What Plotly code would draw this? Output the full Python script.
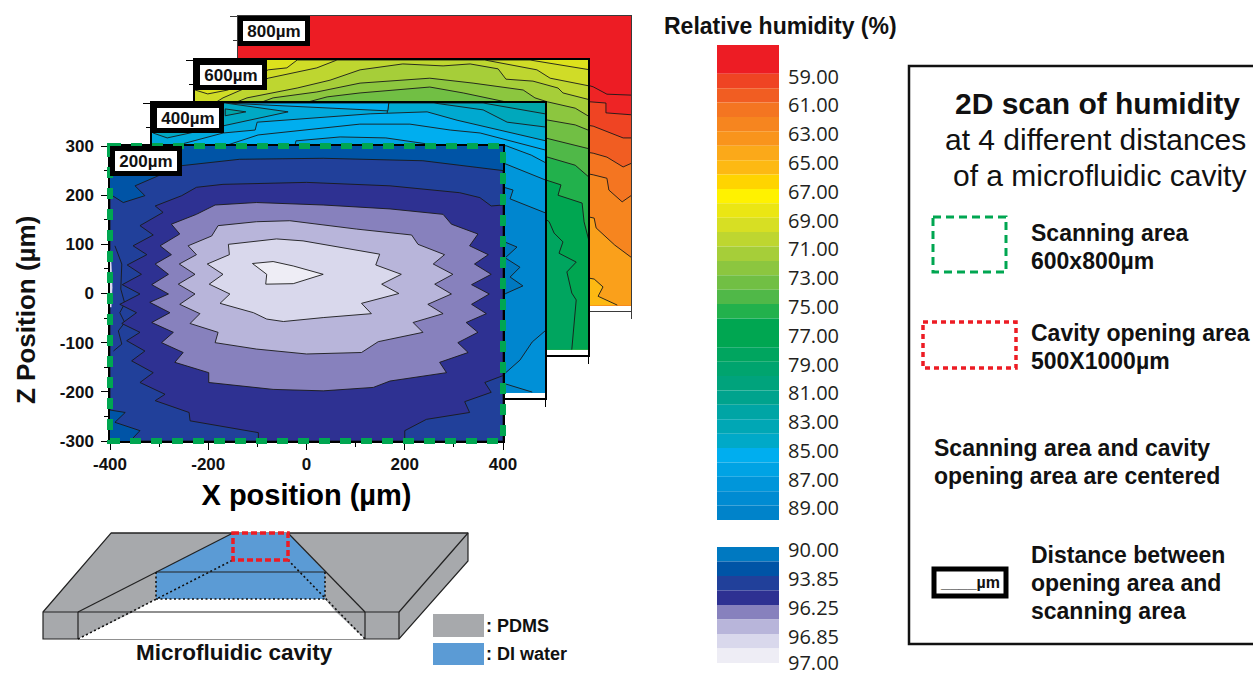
import plotly.graph_objects as go

# ---------- isolines, in micrometres (x, z) ----------
# 200 um panel (closed loops, outer to inner)
ISO_200_A = [(-359,-300),(400,-300),(400,250),(237,270),(34,275),(-136,273),(-254,260),(-349,219),(-329,199),(-373,185),(-400,202),(-400,-237),(-369,-242),(-390,-262),(-339,-279)]
ISO_200_B = [(-308,178),(-292,165),(-339,138),(-312,119),(-353,97),(-325,79),(-365,58),(-336,39),(-375,18),(-339,-1),(-380,-22),(-346,-39),(-376,-61),(-339,-79),(-366,-96),(-329,-117),(-356,-137),(-312,-161),(-339,-181),(-288,-205),(-308,-218),(-239,-242),(-237,-259),(-98,-283),(-98,-300),(200,-300),(200,-279),(244,-256),(332,-242),(322,-220),(376,-201),(363,-181),(400,-167),(400,180),(376,178),(353,195),(312,205),(170,219),(0,226),(-170,222),(-224,216),(-254,199)]
ISO_200_C = [(-186,180),(-102,185),(34,180),(170,172),(278,161),(295,141),(349,121),(332,97),(370,79),(342,60),(376,39),(336,18),(372,-1),(336,-22),(366,-41),(325,-59),(349,-79),(308,-100),(329,-120),(271,-140),(285,-161),(170,-178),(136,-191),(34,-198),(-68,-195),(-199,-181),(-199,-161),(-268,-140),(-251,-120),(-295,-100),(-271,-79),(-315,-59),(-278,-39),(-319,-18),(-281,-1),(-315,18),(-281,39),(-308,60),(-275,79),(-298,97),(-258,121),(-275,141),(-224,161)]
ISO_200_D = [(-180,138),(-102,146),(-34,148),(102,131),(214,119),(227,100),(281,79),(258,60),(298,39),(261,19),(295,-1),(247,-22),(278,-41),(217,-59),(237,-79),(146,-98),(112,-120),(0,-123),(-102,-113),(-186,-100),(-180,-79),(-237,-61),(-217,-41),(-258,-22),(-227,-1),(-261,19),(-227,39),(-259,60),(-224,79),(-241,97),(-193,117)]
ISO_200_E = [(-159,100),(-61,111),(-7,107),(149,80),(141,58),(193,39),(153,19),(188,0),(112,-20),(132,-41),(34,-49),(-47,-57),(-81,-52),(-108,-39),(-176,-20),(-156,-1),(-198,19),(-170,39),(-202,60),(-157,79)]
ISO_200_F = [(-110,61),(-68,65),(-27,56),(34,39),(-27,20),(-83,19),(-81,39)]
EDGE_200_SLIVER = [(-400,90),(-397,60),(-395,12),(-397,-28),(-400,-28)]
EDGE_200_LINE = [(-390,97),(-376,60),(-378,9),(-370,-20),(-380,-39),(-370,-59),(-383,-76),(-376,-103),(-393,-117)]

# 400 um panel
ISO_400_A3 = [(-400,300),(274,300),(400,278)]
ISO_400_A2 = [(-400,300),(174,300),(274,286),(323,261),(402,251)]
ISO_400_STEP = [(82,300),(78,276),(60,200),(-400,200),(-400,300)]
ISO_400_WEDGE = [(-253,300),(80,284),(82,300)]
ISO_400_SPIKE = [(-251,300),(-123,282),(-369,229),(-398,239),(-400,300)]
ISO_400_ISLAND = [(-251,288),(-209,282),(-251,274)]
ISO_400_B = [(-400,204),(-345,215),(-255,239),(-190,245),(-186,261),(44,278),(160,282),(221,265),(402,223)]
ISO_400_C = [(-251,213),(-184,235),(23,257),(125,257),(207,245),(268,239),(402,204)]
ISO_400_D = [(-109,213),(-107,223),(-17,231),(76,229),(172,215),(321,213),(372,194),(402,178)]
ISO_400_E = [(268,204),(315,178),(402,143)]
ISO_400_F = [(268,143),(315,129),(335,123),(329,105),(402,76)]
ISO_400_G = [(290,17),(319,17),(343,7),(319,-15),(349,-34),(329,-54),(355,-72),(319,-88),(290,-88)]
ISO_400_H = [(315,-253),(349,-223),(374,-186),(402,-162)]
ISO_400_I = [(315,-270),(374,-288)]

# 600 um panel
ISO_600_L1 = [(-400,239),(-374,231),(-333,239),(-251,280),(-213,284),(-192,300),(282,300),(404,280)]
ISO_600_L2 = [(-359,213),(-343,223),(-251,263),(-196,274),(-152,284),(-111,300),(190,300),(296,280),(323,263),(404,247)]
ISO_600_L3 = [(-319,213),(-294,223),(-192,243),(-125,259),(-64,280),(-23,286),(23,292),(105,288),(160,292),(217,282),(233,261),(288,257),(339,243),(349,233),(404,219)]
ISO_600_L4 = [(-268,213),(-241,223),(-152,235),(-64,253),(78,263),(166,253),(268,239),(292,223),(317,215),(374,202),(404,184)]
ISO_600_L5 = [(-176,213),(-160,217),(-131,225),(-64,233),(78,245),(146,233),(241,213),(317,178),(374,168),(404,156)]
ISO_600_L6 = [(302,145),(315,141),(404,119)]
ISO_600_L7 = [(302,107),(315,103),(374,86),(404,60)]
ISO_600_L8 = [(302,60),(315,56),(345,46),(339,25),(388,9),(392,-29),(404,-76)]
ISO_600_L9 = [(302,-15),(321,-29),(331,-52),(349,-70),(341,-93),(376,-111),(357,-131),(367,-174),(376,-188),(372,-229),(367,-289)]

# 800 um panel
ISO_800_L1 = [(296,164),(323,156),(351,141),(402,139)]
ISO_800_L2 = [(296,127),(323,125),(349,123),(349,103),(402,99)]
ISO_800_L3 = [(296,80),(323,76),(384,52),(402,52)]
ISO_800_L4 = [(296,25),(323,21),(351,13),(384,-7),(402,1)]
ISO_800_L5 = [(296,-18),(323,-23),(351,-30),(355,-54),(382,-78),(402,-64)]
ISO_800_L6 = [(296,-105),(325,-111),(329,-131),(367,-166),(402,-192)]
ISO_800_L7 = [(296,-230),(325,-235),(343,-251),(333,-270),(372,-288)]

# ---------- colour scales ----------
RH_LEVELS = [57,59,60,61,62,63,64,65,66,67,68,69,70,71,72,73,74,75,76,77,78,79,80,81,82,83,84,85,86,87,88,89,90]
RH_COLORS = ["#ed1c24","#ef4423","#f15d22","#f47521","#f6851f","#f9941c","#fba919","#fdb913","#ffd400","#fff200",
             "#ebe613","#d7df23","#bed630","#a6ce39","#8cc63f","#71bf44","#50b848","#22b14c","#00a651","#00a651",
             "#00a55f","#00a46e","#00a37c","#00a38d","#00a5a5","#00a7b5","#00a9c8","#00aeef","#00a3e4","#0096da",
             "#008bd2","#0083ca"]
RH_TICKS = [59,61,63,65,67,69,71,73,75,77,79,81,83,85,87,89]
HI_COLORS = ["#0079c1","#0054a6","#21409a","#2e3192","#8781bd","#b8b5da","#d9d8ec","#eeedf5"]
HI_TICK_POS = [0,2,4,6,8]
HI_TICK_TEXT = ["90.00","93.85","96.25","96.85","97.00"]
X_TICKS = [-400,-200,0,200,400]
Z_TICKS = [-300,-200,-100,0,100,200,300]

W, H = 1253, 675
SANS = "Liberation Sans"
INK = "#231f20"

fig = go.Figure()

def px(x): return x / W
def py(y): return 1 - y / H

PANELS = {  # axis suffix, left px, top px
    800: ("", 238, 16),
    600: ("2", 195, 60),
    400: ("3", 152, 103),
    200: ("4", 110, 146),
}
PANEL_W, PANEL_H = 393, 295

def poly(sfx, pts, color, line=False):
    xs = [p[0] for p in pts]; ys = [p[1] for p in pts]
    fig.add_trace(go.Scatter(x=xs + xs[:1], y=ys + ys[:1], mode="lines", fill="toself", fillcolor=color,
                             line=dict(color="#1a1a1a" if line else "rgba(0,0,0,0)", width=0.9 if line else 0),
                             xaxis="x"+sfx, yaxis="y"+sfx, hoverinfo="skip", showlegend=False))

def stroke(sfx, pts):
    fig.add_trace(go.Scatter(x=[p[0] for p in pts], y=[p[1] for p in pts], mode="lines",
                             line=dict(color="#1a1a1a", width=0.9),
                             xaxis="x"+sfx, yaxis="y"+sfx, hoverinfo="skip", showlegend=False))

def band(sfx, pts, color, bottom=-289, to_right=True):
    closure = ([(400, bottom)] if to_right else []) + [(pts[0][0], bottom)]
    poly(sfx, pts + closure, color)
    stroke(sfx, pts)

def base(sfx, color, bottom=-289):
    poly(sfx, [(-400,-300),(400,-300),(400,300),(-400,300)], "#ffffff")
    poly(sfx, [(-400,bottom),(400,bottom),(400,300),(-400,300)], color)

# 800 um
base("", "#ed1c24")
for pts, c in [(ISO_800_L1,"#ee2425"),(ISO_800_L2,"#ef4423"),(ISO_800_L3,"#f15d22"),(ISO_800_L4,"#f47521"),
               (ISO_800_L5,"#f6851f"),(ISO_800_L6,"#faa01b")]:
    band("", pts, c)
band("", ISO_800_L7, "#fdb913", to_right=False)

# 600 um
base("2", "#dde21c")
for pts, c in [(ISO_600_L1,"#d0dc27"),(ISO_600_L2,"#bed630"),(ISO_600_L3,"#a6ce39"),(ISO_600_L4,"#8cc63f"),
               (ISO_600_L5,"#71bf44"),(ISO_600_L6,"#50b848"),(ISO_600_L7,"#22b14c"),(ISO_600_L8,"#00a651")]:
    band("2", pts, c)
band("2", ISO_600_L9, "#00a55f", to_right=False)

# 400 um
base("3", "#00a5a8")
band("3", ISO_400_A3, "#00a8bc")
band("3", ISO_400_A2, "#00a9d0")
poly("3", ISO_400_STEP, "#00a9dc")
stroke("3", ISO_400_STEP[:2])
poly("3", ISO_400_WEDGE, "#00aeef", line=True)
poly("3", ISO_400_SPIKE, "#00a9c4", line=True)
poly("3", ISO_400_ISLAND, "#00a5a8", line=True)
band("3", ISO_400_B, "#00aeef")
band("3", ISO_400_C, "#00aeef")
band("3", ISO_400_D, "#00a3e3")
band("3", ISO_400_E, "#0096da")
band("3", ISO_400_F, "#0086cf")
poly("3", ISO_400_G, "#0079c1", line=True)
band("3", ISO_400_H, "#0090d7")
band("3", ISO_400_I, "#0086cf", to_right=True)

# 200 um
base("4", "#0054a6", bottom=-300)
poly("4", ISO_200_A, "#21409a", line=True)
poly("4", EDGE_200_SLIVER, "#d9d8ec")
stroke("4", EDGE_200_LINE)
poly("4", ISO_200_B, "#2e3192", line=True)
poly("4", ISO_200_C, "#8781bd", line=True)
poly("4", ISO_200_D, "#b8b5da", line=True)
poly("4", ISO_200_E, "#d9d8ec", line=True)
poly("4", ISO_200_F, "#eeedf5", line=True)

# colour bars
fig.add_trace(go.Bar(x=[0]*len(RH_COLORS), y=[b-a for a,b in zip(RH_LEVELS, RH_LEVELS[1:])], base=RH_LEVELS[:-1],
                     marker=dict(color=RH_COLORS, line=dict(width=0)), width=1, xaxis="x5", yaxis="y5",
                     hoverinfo="skip", showlegend=False))
fig.add_trace(go.Bar(x=[0]*len(HI_COLORS), y=[1]*len(HI_COLORS), base=list(range(len(HI_COLORS))),
                     marker=dict(color=HI_COLORS, line=dict(width=0)), width=1, xaxis="x6", yaxis="y6",
                     hoverinfo="skip", showlegend=False))

layout = dict(template="none", width=W, height=H, margin=dict(l=0, r=0, t=0, b=0, autoexpand=False), paper_bgcolor="white",
              plot_bgcolor="rgba(0,0,0,0)", font=dict(family=SANS, color="#000000"), showlegend=False, barmode="overlay")

for dist, (sfx, left, top) in PANELS.items():
    front = dist == 200
    lw = {800: 1.2, 600: 2.2, 400: 2, 200: 1.5}[dist]
    lc = "#3a3a3a" if dist == 800 else "#000000"
    layout["xaxis"+sfx] = dict(domain=[px(left), px(left+PANEL_W)], range=[-400,400], anchor="y"+sfx, automargin=False,
        tickvals=X_TICKS, ticktext=[str(v) for v in X_TICKS], ticks="outside", ticklen=7, tickcolor=lc, tickwidth=1,
        minor=dict(dtick=100, ticks="outside", ticklen=4, tickcolor=lc),
        showline=True, mirror=True, linecolor=lc, linewidth=lw, showgrid=False, zeroline=False,
        showticklabels=front, ticklabelstandoff=0, tickfont=dict(family=SANS, size=17, weight=700, color="#111111"))
    layout["yaxis"+sfx] = dict(domain=[py(top+PANEL_H), py(top)], range=[-300,300], anchor="x"+sfx, automargin=False,
        tickvals=Z_TICKS, ticktext=[str(v) for v in Z_TICKS], ticks="outside", ticklen=7, tickcolor=lc, tickwidth=1,
        minor=dict(dtick=50, ticks="outside", ticklen=4, tickcolor=lc),
        showline=True, mirror=True, linecolor=lc, linewidth=lw, showgrid=False, zeroline=False,
        showticklabels=front, ticklabelstandoff=4, tickfont=dict(family=SANS, size=17, weight=700, color="#111111"))
layout["xaxis4"]["title"] = dict(text="X position (µm)", font=dict(family=SANS, size=29, weight=700), standoff=12)

bar_font = dict(family="Open Sans", size=20, color=INK)
layout["xaxis5"] = dict(domain=[px(717), px(779)], range=[-0.5,0.5], anchor="y5", visible=False, automargin=False)
layout["yaxis5"] = dict(domain=[py(520), py(45)], range=[90,57], anchor="x5", side="right", showgrid=False, zeroline=False, automargin=False,
                        showline=False, ticks="", tickvals=[t+0.2 for t in RH_TICKS], ticktext=[f"{t:.2f}" for t in RH_TICKS],
                        tickfont=bar_font, ticklabelstandoff=8)
layout["xaxis6"] = dict(domain=[px(670), px(779)], range=[-3.75,0.5], anchor="y6", visible=False, automargin=False)
layout["xaxis6"]["domain"] = [px(717), px(779)]
layout["xaxis6"]["range"] = [-0.5,0.5]
layout["yaxis6"] = dict(domain=[py(670.3), py(547)], range=[8.5,0], anchor="x6", side="right", showgrid=False, zeroline=False, automargin=False,
                        showline=False, ticks="", tickvals=[t+0.2 for t in HI_TICK_POS[:-1]] + [HI_TICK_POS[-1]], ticktext=HI_TICK_TEXT,
                        tickfont=bar_font, ticklabelstandoff=8, ticklabeloverflow="allow")

annotations = []
shapes = []

def text(x, y, s, size, bold=True, anchor="left", color="#111111", family=SANS, angle=0):
    annotations.append(dict(x=px(x), y=py(y), xref="paper", yref="paper", text=s, showarrow=False, xanchor=anchor,
                            yanchor="middle", textangle=angle,
                            font=dict(family=family, size=size, color=color, weight=700 if bold else 400)))

def path(points, fill=None, color=None, width=0, dash=None, closed=True):
    d = "M " + " L ".join(f"{px(x):.5f} {py(y):.5f}" for x, y in points) + (" Z" if closed else "")
    s = dict(type="path", path=d, xref="paper", yref="paper", layer="above",
             line=dict(color=color or "rgba(0,0,0,0)", width=width))
    if fill: s["fillcolor"] = fill
    if dash: s["line"]["dash"] = dash
    shapes.append(s)

# panel labels
for dist, (sfx, left, top) in PANELS.items():
    annotations.append(dict(x=-400, y=300, xref="x"+sfx, yref="y"+sfx, text=f"{dist}µm", showarrow=False,
                            xanchor="left", yanchor="top", width=62, height=20, align="center", valign="middle",
                            bgcolor="white", bordercolor="black", borderwidth=5, borderpad=0,
                            font=dict(family=SANS, size=17, weight=700, color="#111111")))

text(26, 310, "Z Position (µm)", 26, angle=-90, anchor="center")
text(780, 26, "Relative humidity (%)", 23, anchor="center")

# explanation box
path([(1260,66),(909,66),(909,644),(1260,644)], color="#111111", width=2.5, closed=False)
text(1242, 104, "2D scan of humidity", 30, anchor="right")
text(1248, 139, "at 4 different distances", 30, bold=False, anchor="right")
text(1248, 176, "of a microfluidic cavity", 30, bold=False, anchor="right")
path([(933,217),(1006,217),(1006,272),(933,272)], color="#00a651", width=3, dash="8px,5px")
text(1029, 233, "Scanning area", 23)
text(1029, 261, "600x800µm", 23)
path([(923,322),(1016,322),(1016,368),(923,368)], color="#ed1c24", width=3.5, dash="5px,4px")
text(1029, 333, "Cavity opening area", 23)
text(1029, 361, "500X1000µm", 23)
text(932, 448, "Scanning area and cavity", 23)
text(932, 476, "opening area are centered", 23)
path([(934,569),(1006,569),(1006,596),(934,596)], fill="white", color="black", width=5)
text(938, 582, "____µm", 16)
text(1029, 555, "Distance between", 23)
text(1029, 583, "opening area and", 23)
text(1029, 611, "scanning area", 23)

# cavity schematic
GREY, BLUE, EDGE = "#a7a9ac", "#5b9bd5", "#222222"
path([(43,612),(111,533),(468,533),(468,561),(399,639),(43,639)], fill=GREY, color=EDGE, width=1.2)
path([(78,639),(133,612),(156,599),(325,599),(336,612),(365,639)], fill="white")
path([(233,533),(288,533),(325,572),(325,599),(156,599),(156,572)], fill=BLUE)
for seg in ([(78,612),(233,533)], [(288,533),(365,612)], [(111,533),(233,533)], [(288,533),(468,533)],
            [(156,572),(325,572)], [(43,612),(133,612)], [(133,612),(336,612)], [(336,612),(399,612)],
            [(399,612),(468,533)], [(78,612),(78,639)], [(365,612),(365,639)], [(399,612),(399,639)]):
    path(seg, color=EDGE, width=1.2, closed=False)
for seg in ([(78,639),(233,560)], [(288,560),(365,639)], [(156,599),(325,599)], [(156,572),(156,599)], [(325,572),(325,599)]):
    path(seg, color="#111111", width=1.6, dash="2px,2.5px", closed=False)
path([(233,533),(288,533),(288,560),(233,560)], color="#ed1c24", width=3.5, dash="6px,3px")
text(234, 652, "Microfluidic cavity", 22.5, anchor="center")
path([(433,614),(484,614),(484,637),(433,637)], fill=GREY)
path([(433,643),(484,643),(484,665),(433,665)], fill=BLUE)
text(484, 626, ": PDMS", 18)
text(484, 654, ": DI water", 18)

# scanning-area frame on the 200 um panel
path([(110,146),(503,146),(503,441),(110,441)], color="#00a651", width=6, dash="11px,10px")

layout["annotations"] = annotations
layout["shapes"] = shapes
fig.update_layout(**layout)
fig.write_html("out.html", config=dict(displayModeBar=False), post_script="document.body.style.margin='0';")
